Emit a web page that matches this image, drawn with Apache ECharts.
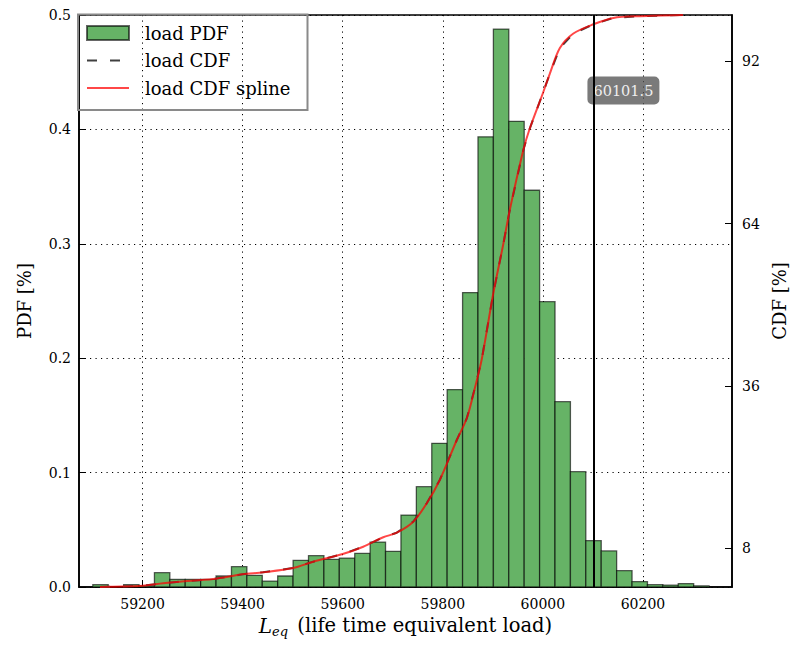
<!DOCTYPE html>
<html>
<head>
<meta charset="utf-8">
<script src="https://cdn.jsdelivr.net/npm/echarts@6/dist/echarts.min.js"></script>
<style>
  html, body { margin: 0; padding: 0; background: #fff; overflow: hidden; }
  #chart { width: 791px; height: 648px; }
</style>
</head>
<body>
<div id="chart"></div>
<script>
// ---- data ----
const binStart = 59100.6;      // left edge of first histogram bin
const binWidth = 30.79;        // histogram bin width
const pdfValues = [
  0.002, 0, 0.002, 0.001, 0.0125, 0.0067, 0.0067, 0.0067, 0.0096, 0.0178,
  0.0102, 0.0052, 0.0096, 0.0233, 0.0274, 0.0242, 0.0253, 0.0294, 0.0393, 0.0312,
  0.0629, 0.0877, 0.1256, 0.1726, 0.2574, 0.3935, 0.4877, 0.4071, 0.3468, 0.2494,
  0.1620, 0.1008, 0.0405, 0.0315, 0.0143, 0.0047, 0.0020, 0.0017, 0.0030, 0.0010
];
const cdfX = [
  59115, 59141, 59200, 59241, 59274, 59341, 59400, 59441, 59501, 59541,
  59600, 59641, 59681, 59708, 59741, 59768, 59794, 59828, 59848, 59864,
  59878, 59901, 59921, 59934, 59961, 59973, 60000, 60014, 60034, 60061,
  60101, 60141, 60194, 60280
];
const cdfY = [
  1.32, 1.37, 1.54, 1.96, 2.23, 2.70, 3.51, 3.86, 4.6, 5.69,
  7.01, 8.27, 9.90, 10.69, 12.59, 15.76, 19.78, 26.68, 30.43, 35.6,
  40.66, 51.99, 60.5, 66.4, 76.7, 80.2, 86.5, 89.9, 94.3, 96.8,
  98.4, 99.5, 99.8, 100
];
const xTicks = [59200, 59400, 59600, 59800, 60000, 60200];
const cdfTicks = [8, 36, 64, 92];
const markerValue = 60101.5;
const markerLabelPos = [60161, 0.434];

const FONT = 'DejaVu Serif';

const histData = pdfValues.map((v, i) => [binStart + i * binWidth, binStart + (i + 1) * binWidth, v]);
const cdfData = cdfX.map((x, i) => [x, cdfY[i]]);

const chart = echarts.init(document.getElementById('chart'), null, { renderer: 'svg', width: 791, height: 648 });

const dotted = { color: '#000', width: 1, type: [1.2, 4.3] };
const hiddenSymbol = { color: 'rgba(0,0,0,0)', borderWidth: 0, opacity: 0 };

chart.setOption({
  animation: false,
  backgroundColor: '#fff',
  grid: {
    left: 79, right: 59, top: 15, bottom: 61,
    containLabel: false, outerBoundsMode: 'none',
    show: true, borderColor: '#000', borderWidth: 1.6, backgroundColor: 'transparent'
  },
  legend: {
    orient: 'vertical',
    left: 86, top: 24, padding: 0,
    itemWidth: 42, itemHeight: 14, itemGap: 9.5,
    textStyle: { fontFamily: FONT, fontSize: 18, color: '#000', lineHeight: 18, padding: [0, 0, 0, 11] },
    data: [
      { name: 'load PDF', icon: 'rect' },
      { name: 'load CDF', itemStyle: hiddenSymbol },
      { name: 'load CDF spline', itemStyle: hiddenSymbol }
    ]
  },
  graphic: [{
    type: 'rect', z: 100,
    shape: { x: 78, y: 14.5, width: 229.5, height: 95.5 },
    style: { fill: 'none', stroke: '#8a8a8a', lineWidth: 2 }
  }],
  xAxis: {
    type: 'value', min: 59073, max: 60378,
    name: '{i|L}{s|eq} (life time equivalent load)',
    nameLocation: 'middle', nameGap: 21,
    nameTextStyle: {
      fontFamily: FONT, fontSize: 19.5, color: '#000',
      rich: {
        i: { fontFamily: FONT, fontStyle: 'italic', fontSize: 20, color: '#000' },
        s: { fontFamily: FONT, fontStyle: 'italic', fontSize: 13, color: '#000', padding: [12, 3, 0, 0] }
      }
    },
    axisLine: { show: true, lineStyle: { color: '#000', width: 1.6 } },
    axisTick: { show: true, inside: true, length: 7, customValues: xTicks, lineStyle: { color: '#000' } },
    axisLabel: { customValues: xTicks, fontFamily: FONT, fontSize: 14, color: '#000', margin: 10, formatter: v => String(v) },
    splitLine: { show: true, lineStyle: dotted }
  },
  yAxis: [{
    type: 'value', min: 0, max: 0.5, interval: 0.1, position: 'left',
    name: 'PDF [%]', nameLocation: 'middle', nameGap: 46, nameRotate: 90,
    nameTextStyle: { fontFamily: FONT, fontSize: 18, color: '#000' },
    axisLine: { show: true, lineStyle: { color: '#000', width: 1.6 } },
    axisTick: { show: true, inside: true, length: 7, lineStyle: { color: '#000' } },
    axisLabel: { fontFamily: FONT, fontSize: 14, color: '#000', margin: 8, formatter: v => v.toFixed(1) },
    splitLine: { show: true, lineStyle: dotted }
  }, {
    type: 'value', min: 1.32, max: 100, position: 'right',
    name: 'CDF [%]', nameLocation: 'middle', nameGap: 34, nameRotate: 90,
    nameTextStyle: { fontFamily: FONT, fontSize: 18, color: '#000' },
    axisLine: { show: true, lineStyle: { color: '#000', width: 1.6 } },
    axisTick: { show: true, inside: true, length: 7, customValues: cdfTicks, lineStyle: { color: '#000' } },
    axisLabel: { customValues: cdfTicks, fontFamily: FONT, fontSize: 14, color: '#000', margin: 10 },
    splitLine: { show: false }
  }],
  series: [{
    name: 'load PDF',
    type: 'custom',
    xAxisIndex: 0, yAxisIndex: 0,
    encode: { x: [0, 1], y: 2 },
    itemStyle: { color: '#66b366', borderColor: 'rgba(0,0,0,0.6)', borderWidth: 1.3 },
    data: histData,
    renderItem: function (params, api) {
      const p0 = api.coord([api.value(0), api.value(2)]);
      const p1 = api.coord([api.value(1), 0]);
      return {
        type: 'rect',
        shape: { x: p0[0], y: p0[1], width: p1[0] - p0[0], height: p1[1] - p0[1] },
        style: { fill: '#66b366', stroke: 'rgba(0,0,0,0.62)', lineWidth: 1.3 }
      };
    },
    markLine: {
      silent: true, symbol: 'none', animation: false,
      label: { show: false },
      lineStyle: { color: '#000', width: 2, type: 'solid' },
      data: [{ xAxis: markerValue }],
      z: 10
    },
    markPoint: {
      silent: true, symbol: 'rect', symbolSize: 0,
      data: [{ coord: markerLabelPos, value: markerValue }],
      label: {
        show: true, position: 'inside',
        formatter: () => String(markerValue),
        fontFamily: FONT, fontSize: 14.5, color: '#eeeeee',
        backgroundColor: 'rgba(85,85,85,0.78)', borderRadius: 5,
        padding: [7, 6, 6, 6]
      }
    }
  }, {
    name: 'load CDF',
    type: 'line',
    yAxisIndex: 1,
    data: cdfData,
    symbol: 'none', showSymbol: false,
    lineStyle: { color: '#404040', width: 2, type: [10, 13] },
    itemStyle: { color: '#404040' },
    z: 3
  }, {
    name: 'load CDF spline',
    type: 'line',
    yAxisIndex: 1,
    data: cdfData,
    smooth: 0.3,
    symbol: 'none', showSymbol: false,
    lineStyle: { color: 'rgba(255,0,0,0.72)', width: 2 },
    itemStyle: { color: 'rgba(255,0,0,0.72)' },
    z: 4
  }]
});
</script>
</body>
</html>
